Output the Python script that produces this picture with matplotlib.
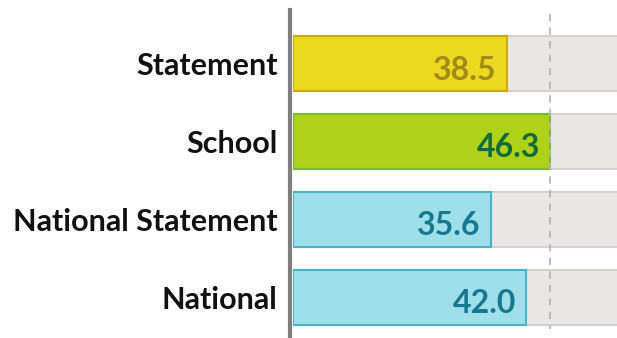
import matplotlib.pyplot as plt
from matplotlib.patches import Rectangle

categories = ['Statement', 'School', 'National Statement', 'National']
values = [38.5, 46.3, 35.6, 42.0]
fills = ['#ecd820', '#afd118', '#9fdfea', '#9fdfea']
edges = ['#c9a915', '#78b935', '#4ab3c8', '#4ab3c8']
text_colors = ['#a08a18', '#0f6a3c', '#16788f', '#16788f']
reference = 46.3
x_max = 58.4

plt.rcParams['font.family'] = ['Lato', 'DejaVu Sans']

fig = plt.figure(figsize=(6.17, 3.38), dpi=100)
ax = fig.add_axes([293 / 617, 0, (617 - 293) / 617, 1])

y_top, y_bot = -0.82, 3.52
ax.set_xlim(0, x_max)
ax.set_ylim(y_bot, y_top)

# axis line on the left, set up before the tick labels
for s in ['top', 'right', 'bottom']:
    ax.spines[s].set_visible(False)
ax.spines['left'].set_position(('outward', 2))
ax.spines['left'].set_bounds(y_top + 0.13, y_bot)
ax.spines['left'].set_color('#7f7f7f')
ax.spines['left'].set_linewidth(3)

ypos = list(range(len(categories)))
h = 0.705

# grey track behind every bar
for y in ypos:
    ax.add_patch(Rectangle((0, y - h / 2), x_max, h, facecolor='#e8e7e5',
                           edgecolor='none', zorder=1))
    ax.plot([0, x_max], [y - h / 2, y - h / 2], color='#d3d2cb', lw=1.5, zorder=1.5)
    ax.plot([0, x_max], [y + h / 2, y + h / 2], color='#d3d2cb', lw=1.5, zorder=1.5)

ax.barh(ypos, values, height=h, color=fills, edgecolor=edges, linewidth=1.5, zorder=2)

for y, v, c in zip(ypos, values, text_colors):
    ax.text(v - 1.8, y + 0.08, f'{v:.1f}', ha='right', va='center', color=c,
            fontsize=23, fontweight='bold', zorder=4)

ax.plot([reference, reference], [-0.64, 3.41], color='#b5b5b5', lw=1.3,
        ls=(0, (4, 3.5)), zorder=3)

ax.set_xticks([])
ax.set_yticks(ypos)
ax.set_yticklabels(categories, fontsize=22, fontweight='bold', color='#111111')
ax.tick_params(axis='y', length=0, pad=9)

fig.savefig('out.png', dpi=100)
